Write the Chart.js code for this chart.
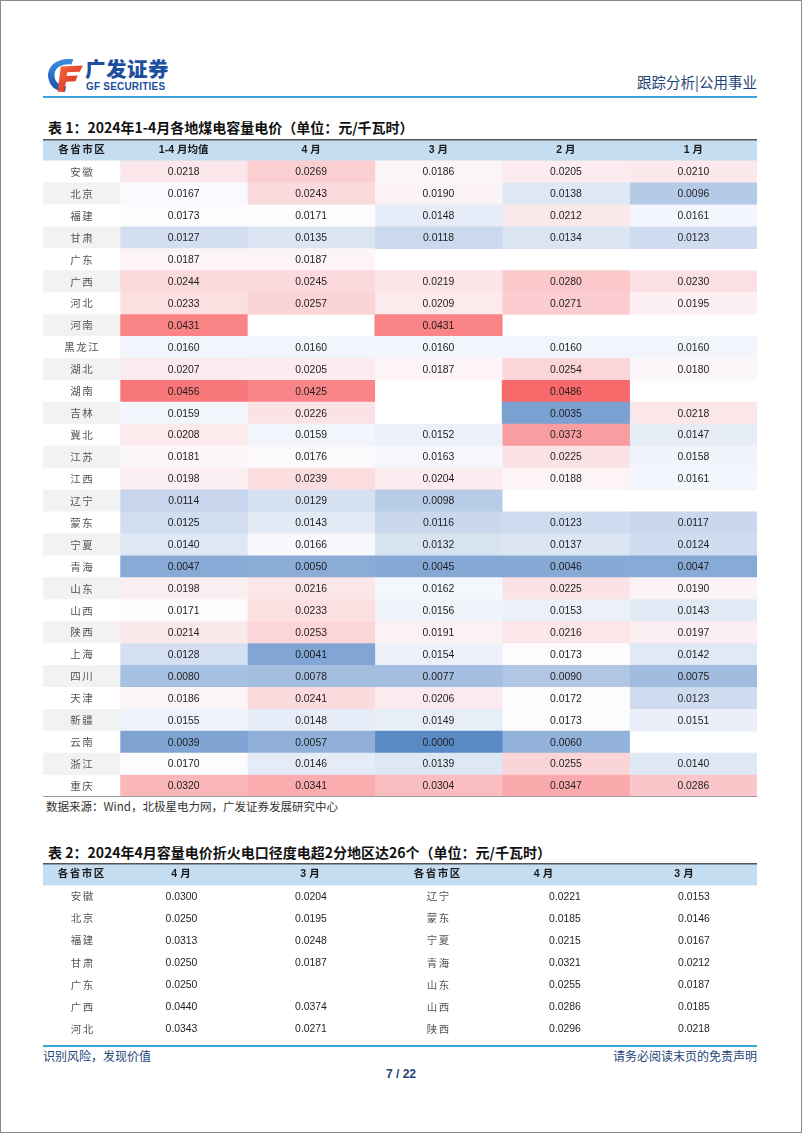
<!DOCTYPE html>
<html>
<head>
<meta charset="utf-8">
<script src="https://cdn.jsdelivr.net/npm/chart.js@4.4.1/dist/chart.umd.min.js"></script>
<style>
html,body{margin:0;padding:0;background:#fff;}
#page{position:relative;width:802px;height:1133px;overflow:hidden;background:#fff;font-family:"Liberation Sans","Noto Sans CJK SC",sans-serif;}
#frame{position:absolute;left:0;top:0;width:802px;height:1133px;box-sizing:border-box;border:1px solid #8a8a8a;pointer-events:none;}
.abs{position:absolute;white-space:nowrap;}
.title{font-family:"Noto Sans CJK SC",sans-serif;font-weight:700;font-size:14px;color:#111;line-height:20px;}
.hline{position:absolute;left:43px;width:714px;height:2px;background:#3aa3d9;}
.blue{color:#1f4578;font-family:"Noto Sans CJK SC",sans-serif;}
</style>
</head>
<body>
<div id="page">
  <!-- logo -->
  <svg class="abs" style="left:45px;top:56px" width="40" height="38" viewBox="0 0 38 36">
    <defs>
      <linearGradient id="gb" x1="0" y1="0" x2="0" y2="1"><stop offset="0" stop-color="#3d8fe0"/><stop offset="1" stop-color="#1b4fa8"/></linearGradient>
      <linearGradient id="gr" x1="0" y1="0" x2="1" y2="1"><stop offset="0" stop-color="#f36b3c"/><stop offset="1" stop-color="#d8231f"/></linearGradient>
    </defs>
    <path d="M27 3 C12 1 2 9 3 20 C4 29 11 34 19 34 L20 29 C13 28 9 24 9 18 C9 11 16 7 25 8 Z" fill="url(#gb)"/>
    <path d="M15 10 L36 9 L33 15 L21 15.5 L20.5 19 L31 18.5 L29 24 L20 24.5 L18 34 L12 34 Z" fill="url(#gr)"/>
  </svg>
  <div class="abs" style="left:85px;top:56px;font-family:'Noto Sans CJK SC';font-weight:900;font-size:20.5px;line-height:24px;color:#1d4f9e;letter-spacing:0.5px;">广发证券</div>
  <div class="abs" style="left:86px;top:81px;font-family:'Liberation Sans';font-weight:700;font-size:10px;line-height:12px;color:#1d4f9e;letter-spacing:0.2px;">GF SECURITIES</div>
  <div class="abs blue" style="right:45px;top:72px;font-size:14.5px;line-height:20px;">跟踪分析|公用事业</div>
  <div class="hline" style="top:96px;"></div>

  <div class="abs title" style="left:48px;top:117px;">表 1：2024年1-4月各地煤电容量电价（单位：元/千瓦时）</div>
  <canvas id="t1" class="abs" style="left:43px;top:139px;" width="714" height="658"></canvas>
  <div class="abs" style="left:46px;top:798px;font-family:'Noto Sans CJK SC';font-size:11.5px;line-height:16px;color:#333;">数据来源：Wind，北极星电力网，广发证券发展研究中心</div>

  <div class="abs title" style="left:48px;top:842px;">表 2：2024年4月容量电价折火电口径度电超2分地区达26个（单位：元/千瓦时）</div>
  <canvas id="t2" class="abs" style="left:43px;top:863px;" width="714" height="177"></canvas>

  <div class="hline" style="top:1045px;"></div>
  <div class="abs blue" style="left:43px;top:1047px;font-size:12px;line-height:17px;">识别风险，发现价值</div>
  <div class="abs blue" style="right:45px;top:1047px;font-size:12px;line-height:17px;">请务必阅读末页的免责声明</div>
  <div class="abs" style="left:0;width:802px;text-align:center;top:1066px;font-family:'Liberation Sans';font-weight:700;font-size:12px;line-height:16px;color:#1f4578;">7 / 22</div>
  <div id="frame"></div>
</div>

<script>
// ---------------- Table 1 data ----------------
const provinces = ['安徽','北京','福建','甘肃','广东','广西','河北','河南','黑龙江','湖北','湖南','吉林','冀北','江苏','江西','辽宁','蒙东','宁夏','青海','山东','山西','陕西','上海','四川','天津','新疆','云南','浙江','重庆'];
const regionHeader = '各省市区';
const columnLabels = ['1-4 月均值','4 月','3 月','2 月','1 月'];
const avgJanApr = [0.0218,0.0167,0.0173,0.0127,0.0187,0.0244,0.0233,0.0431,0.0160,0.0207,0.0456,0.0159,0.0208,0.0181,0.0198,0.0114,0.0125,0.0140,0.0047,0.0198,0.0171,0.0214,0.0128,0.0080,0.0186,0.0155,0.0039,0.0170,0.0320];
const apr = [0.0269,0.0243,0.0171,0.0135,0.0187,0.0245,0.0257,null,0.0160,0.0205,0.0425,0.0226,0.0159,0.0176,0.0239,0.0129,0.0143,0.0166,0.0050,0.0216,0.0233,0.0253,0.0041,0.0078,0.0241,0.0148,0.0057,0.0146,0.0341];
const mar = [0.0186,0.0190,0.0148,0.0118,null,0.0219,0.0209,0.0431,0.0160,0.0187,null,null,0.0152,0.0163,0.0204,0.0098,0.0116,0.0132,0.0045,0.0162,0.0156,0.0191,0.0154,0.0077,0.0206,0.0149,0.0000,0.0139,0.0304];
const feb = [0.0205,0.0138,0.0212,0.0134,null,0.0280,0.0271,null,0.0160,0.0254,0.0486,0.0035,0.0373,0.0225,0.0188,null,0.0123,0.0137,0.0046,0.0225,0.0153,0.0216,0.0173,0.0090,0.0172,0.0173,0.0060,0.0255,0.0347];
const jan = [0.0210,0.0096,0.0161,0.0123,null,0.0230,0.0195,null,0.0160,0.0180,null,0.0218,0.0147,0.0158,0.0161,null,0.0117,0.0124,0.0047,0.0190,0.0143,0.0197,0.0142,0.0075,0.0123,0.0151,null,0.0140,0.0286];

// ---------------- Table 2 data ----------------
const t2Header = ['各省市区','4 月','3 月','各省市区','4 月','3 月'];
const t2ProvLeft = ['安徽','北京','福建','甘肃','广东','广西','河北'];
const t2AprLeft = [0.0300,0.0250,0.0313,0.0250,0.0250,0.0440,0.0343];
const t2MarLeft = [0.0204,0.0195,0.0248,0.0187,null,0.0374,0.0271];
const t2ProvRight = ['辽宁','蒙东','宁夏','青海','山东','山西','陕西'];
const t2AprRight = [0.0221,0.0185,0.0215,0.0321,0.0255,0.0286,0.0296];
const t2MarRight = [0.0153,0.0146,0.0167,0.0212,0.0187,0.0185,0.0218];

// ---------------- styling ----------------
const HEADER_BG = '#c5ddf1';
const ZEBRA = ['#ffffff','#f2f2f2'];
const NUM_FONT = '10.4px "Liberation Sans", Arial, sans-serif';
const CJK_FONT = '10.5px "Noto Sans CJK SC", sans-serif';
const HEAD_FONT = 'bold 10.5px "Liberation Sans","Noto Sans CJK SC", sans-serif';

const series1 = [avgJanApr, apr, mar, feb, jan];
const allVals = series1.flat().filter(v => v !== null).sort((a,b)=>a-b);
const vMin = allVals[0], vMax = allVals[allVals.length-1];
const vMid = (function(){ const p=(allVals.length-1)*0.5, lo=Math.floor(p), hi=Math.ceil(p); return allVals[lo]+(allVals[hi]-allVals[lo])*(p-lo); })();
const C_LOW=[90,138,198], C_MID=[252,252,255], C_HIGH=[248,105,107];
function mix(a,b,t){ return 'rgb('+a.map((c,i)=>Math.round(c+(b[i]-c)*t)).join(',')+')'; }
function heat(v){
  if (v === null) return 'rgba(0,0,0,0)';
  if (v <= vMid) return mix(C_LOW, C_MID, (v - vMin)/(vMid - vMin));
  return mix(C_MID, C_HIGH, (v - vMid)/(vMax - vMid));
}
function drawSpaced(ctx, text, x, y, spacing){
  if ('letterSpacing' in ctx) { ctx.letterSpacing = spacing + 'px'; ctx.fillText(text, x + spacing/2, y); ctx.letterSpacing = '0px'; }
  else ctx.fillText(text, x, y);
}

// ---------------- Table 1 chart ----------------
const PROV_W = 0.604; // width of province column in data-column units
const yLabels1 = [regionHeader].concat(provinces);
const datasets1 = [];
datasets1.push({
  data: yLabels1.map(() => [-PROV_W, 0]),
  backgroundColor: yLabels1.map((_, r) => r === 0 ? HEADER_BG : ZEBRA[(r-1) % 2]),
  grouped: false, barPercentage: 1, categoryPercentage: 1, borderWidth: 0, borderSkipped: false
});
series1.forEach((s, i) => {
  datasets1.push({
    data: [[i, i+1]].concat(s.map(v => v === null ? null : [i, i+1])),
    backgroundColor: [HEADER_BG].concat(s.map(v => heat(v))),
    grouped: false, barPercentage: 1, categoryPercentage: 1, borderWidth: 0, borderSkipped: false
  });
});

const table1Text = {
  id: 'table1Text',
  afterDatasetsDraw(chart) {
    const {ctx, chartArea: a} = chart;
    const x = chart.scales.x, y = chart.scales.y;
    ctx.save();
    ctx.textAlign = 'center'; ctx.textBaseline = 'middle';
    const yh = y.getPixelForValue(0);
    ctx.font = HEAD_FONT; ctx.fillStyle = '#1a1a1a';
    drawSpaced(ctx, regionHeader, x.getPixelForValue(-PROV_W/2), yh, 1.5);
    columnLabels.forEach((m, i) => ctx.fillText(m, x.getPixelForValue(i + 0.5), yh));
    ctx.font = CJK_FONT; ctx.fillStyle = '#555';
    provinces.forEach((p, r) => drawSpaced(ctx, p, x.getPixelForValue(-PROV_W/2), y.getPixelForValue(r + 1), 1.5));
    ctx.font = NUM_FONT; ctx.fillStyle = '#1e1e1e';
    series1.forEach((s, i) => s.forEach((v, r) => {
      if (v !== null) ctx.fillText(v.toFixed(4), x.getPixelForValue(i + 0.5), y.getPixelForValue(r + 1) + 0.5);
    }));
    ctx.lineWidth = 1.5; ctx.strokeStyle = '#555';
    ctx.beginPath(); ctx.moveTo(a.left, a.top + 0.75); ctx.lineTo(a.right, a.top + 0.75); ctx.stroke();
    ctx.lineWidth = 1; ctx.strokeStyle = '#9a9a9a';
    ctx.beginPath(); ctx.moveTo(a.left, a.bottom - 0.5); ctx.lineTo(a.right, a.bottom - 0.5); ctx.stroke();
    ctx.restore();
  }
};

new Chart(document.getElementById('t1'), {
  type: 'bar',
  data: { labels: yLabels1, datasets: datasets1 },
  options: {
    indexAxis: 'y', responsive: false, animation: false, devicePixelRatio: 1,
    layout: { padding: 0 },
    plugins: { legend: { display: false }, tooltip: { enabled: false } },
    scales: {
      x: { type: 'linear', min: -PROV_W, max: columnLabels.length, display: false },
      y: { type: 'category', display: false, offset: true }
    }
  },
  plugins: [table1Text]
});

// ---------------- Table 2 chart ----------------
const T2_W = 714;
const t2HeadX = [38, 138, 267, 394, 500.5, 641];
const t2CellX = [39, 138.5, 268, 395, 522, 651];
const yLabels2 = ['header'].concat(t2ProvLeft);
const table2Text = {
  id: 'table2Text',
  afterDatasetsDraw(chart) {
    const {ctx, chartArea: a} = chart;
    const x = chart.scales.x, y = chart.scales.y;
    ctx.save();
    ctx.textAlign = 'center'; ctx.textBaseline = 'middle';
    ctx.font = HEAD_FONT; ctx.fillStyle = '#1a1a1a';
    t2Header.forEach((h, i) => {
      if (i % 3 === 0) drawSpaced(ctx, h, x.getPixelForValue(t2HeadX[i]), y.getPixelForValue(0), 1.5);
      else ctx.fillText(h, x.getPixelForValue(t2HeadX[i]), y.getPixelForValue(0));
    });
    const cols = [t2ProvLeft, t2AprLeft, t2MarLeft, t2ProvRight, t2AprRight, t2MarRight];
    cols.forEach((col, i) => col.forEach((v, r) => {
      if (v === null) return;
      const isText = typeof v === 'string';
      ctx.font = isText ? CJK_FONT : NUM_FONT;
      ctx.fillStyle = isText ? '#555' : '#1e1e1e';
      if (isText) drawSpaced(ctx, v, x.getPixelForValue(t2CellX[i]), y.getPixelForValue(r + 1), 1.5);
      else ctx.fillText(v.toFixed(4), x.getPixelForValue(t2CellX[i]), y.getPixelForValue(r + 1) + 0.5);
    }));
    ctx.lineWidth = 1.5; ctx.strokeStyle = '#555';
    ctx.beginPath(); ctx.moveTo(a.left, a.top + 0.75); ctx.lineTo(a.right, a.top + 0.75); ctx.stroke();
    ctx.restore();
  }
};
new Chart(document.getElementById('t2'), {
  type: 'bar',
  data: { labels: yLabels2, datasets: [{
    data: yLabels2.map((_, r) => r === 0 ? [0, T2_W] : null),
    backgroundColor: HEADER_BG,
    grouped: false, barPercentage: 1, categoryPercentage: 1, borderWidth: 0, borderSkipped: false
  }]},
  options: {
    indexAxis: 'y', responsive: false, animation: false, devicePixelRatio: 1,
    layout: { padding: 0 },
    plugins: { legend: { display: false }, tooltip: { enabled: false } },
    scales: {
      x: { type: 'linear', min: 0, max: T2_W, display: false },
      y: { type: 'category', display: false, offset: true }
    }
  },
  plugins: [table2Text]
});
</script>
</body>
</html>
